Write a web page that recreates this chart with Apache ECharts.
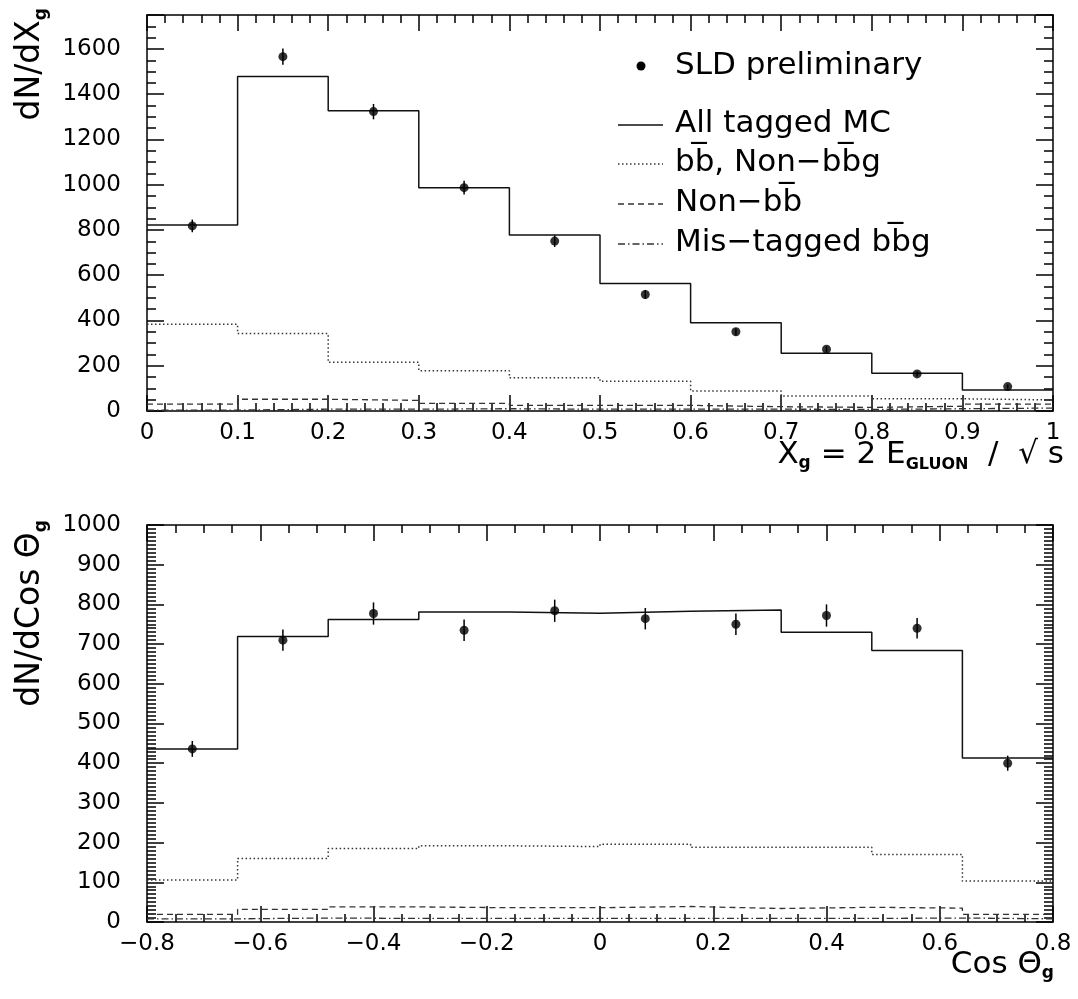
<!DOCTYPE html>
<html><head><meta charset="utf-8">
<script src="https://cdn.jsdelivr.net/npm/echarts@6/dist/echarts.min.js"></script>
<style>html,body{margin:0;padding:0;background:#fff}#c{width:1078px;height:999px}</style>
</head><body><div id="c"></div>
<script>
// ---- Top panel: X_g distribution ----
const xgEdges   = [0, 0.1, 0.2, 0.3, 0.4, 0.5, 0.6, 0.7, 0.8, 0.9, 1.0];
const xgCenters = [0.05, 0.15, 0.25, 0.35, 0.45, 0.55, 0.65, 0.75, 0.85, 0.95];
const xgData    = [818, 1566, 1323, 987, 751, 515, 350, 273, 164, 108];
const xgErr     = [28, 36, 34, 30, 26, 20, 16, 13, 11, 9];
const xgAllMC   = [822, 1478, 1327, 987, 778, 563, 390, 255, 167, 93];
const xgBB      = [383, 342, 215, 178, 147, 131, 88, 66, 54, 49];
const xgNonBB   = [30, 52, 47, 34, 25, 25, 19, 16, 21, 30];
const xgMis     = [4, 8, 8, 10, 8, 8, 8, 7, 10, 13];

// ---- Bottom panel: cos theta_g distribution ----
const cosEdges   = [-0.8, -0.64, -0.48, -0.32, -0.16, 0, 0.16, 0.32, 0.48, 0.64, 0.8];
const cosCenters = [-0.72, -0.56, -0.40, -0.24, -0.08, 0.08, 0.24, 0.40, 0.56, 0.72];
const cosData    = [436, 710, 777, 735, 784, 764, 750, 772, 740, 400];
const cosErr     = [20, 27, 28, 27, 28, 27, 27, 28, 26, 19];
const cosAllMC   = [436, 719, 762, 781, 778, 783, 786, 730, 684, 413];
const cosBB      = [106, 160, 185, 192, 190, 196, 188, 188, 170, 103];
const cosNonBB   = [19, 32, 38, 36, 36, 39, 34, 37, 35, 19];
const cosMis     = [8, 10, 9, 9, 9, 9, 9, 9, 10, 8];

const legendLabels = ['SLD preliminary', 'All tagged MC', 'bb\u0305, Non\u2212bb\u0305g', 'Non\u2212bb\u0305', 'Mis\u2212tagged bb\u0305g'];

const FONT = 'DejaVu Sans';
const BLACK = '#000';
const STY = {
  solid:  {color: '#111', width: 1.5, type: 'solid'},
  dotted: {color: '#333', width: 1.5, type: [1.5, 2.5]},
  dashed: {color: '#333', width: 1.3, type: [6, 4]},
  dashdot:{color: '#333', width: 1.3, type: [7, 3, 1.5, 3]}
};

function hist(edges, vals) { return edges.map((e, i) => [e, vals[Math.min(i, vals.length - 1)]]); }
function pts(c, v) { return c.map((x, i) => [x, v[i]]); }
function errs(c, v, e) { return c.map((x, i) => [x, v[i] - e[i], v[i] + e[i]]); }
function fmt1(v) { return String(Math.round(v * 10) / 10).replace('-', '\u2212'); }

function xAx(grid, min, max, interval, minorSplit, pos, show) {
  return {type: 'value', gridIndex: grid, min, max, interval, position: pos,
    axisLine: {show: true, onZero: false, lineStyle: {color: BLACK, width: 1.5}},
    axisTick: {show: true, inside: true, length: 16, lineStyle: {color: BLACK, width: 1.5}},
    minorTick: {show: true, splitNumber: minorSplit, length: 8, lineStyle: {color: BLACK, width: 1.5}},
    splitLine: {show: false}, minorSplitLine: {show: false},
    axisLabel: {show: show, margin: 11, fontFamily: FONT, fontSize: 23, color: BLACK, formatter: fmt1}
  };
}
function yAx(grid, min, max, interval, minorSplit, pos, show) {
  return {type: 'value', gridIndex: grid, min, max, interval, position: pos,
    axisLine: {show: true, onZero: false, lineStyle: {color: BLACK, width: 1.5}},
    axisTick: {show: true, inside: true, length: 17, lineStyle: {color: BLACK, width: 1.5}},
    minorTick: {show: true, splitNumber: minorSplit, length: 9, lineStyle: {color: BLACK, width: 1.5}},
    splitLine: {show: false}, minorSplitLine: {show: false},
    axisLabel: {show: show, margin: 26, fontFamily: FONT, fontSize: 23, color: BLACK,
      showMaxLabel: interval === 100,
      formatter: v => (Math.abs(v / interval - Math.round(v / interval)) < 1e-6 ? String(Math.round(v)) : '')}
  };
}

const errRender = (params, api) => {
  const x = api.value(0), lo = api.value(1), hi = api.value(2);
  const p1 = api.coord([x, lo]), p2 = api.coord([x, hi]);
  return {type: 'line', shape: {x1: p1[0], y1: p1[1], x2: p2[0], y2: p2[1]},
    style: {stroke: BLACK, lineWidth: 1.5}};
};

function panelSeries(g, edges, centers, data, err, all, bb, nonbb, mis) {
  const ax = {xAxisIndex: g * 2, yAxisIndex: g * 2};
  const line = (name, vals, st) => Object.assign({type: 'line', name, step: 'end', symbol: 'none',
    data: hist(edges, vals), lineStyle: st, silent: true, animation: false}, ax);
  return [
    line(legendLabels[4], mis, STY.dashdot),
    line(legendLabels[3], nonbb, STY.dashed),
    line(legendLabels[2], bb, STY.dotted),
    line(legendLabels[1], all, STY.solid),
    Object.assign({type: 'custom', name: 'err', renderItem: errRender, encode: {x: 0, y: [1, 2]},
      data: errs(centers, data, err), animation: false, z: 3}, ax),
    Object.assign({type: 'scatter', name: legendLabels[0], data: pts(centers, data), symbol: 'circle',
      symbolSize: 9, itemStyle: {color: BLACK}, animation: false, z: 4}, ax)
  ];
}

// legend drawn as graphic elements
const legX = 618, legTx = 675;
const legRows = [125, 164, 204, 244];
const legStyles = [STY.solid, STY.dotted, STY.dashed, STY.dashdot];
const graphics = [
  {type: 'circle', shape: {cx: 641, cy: 66, r: 4.5}, style: {fill: BLACK}},
  {type: 'text', x: legTx, y: 66, style: {text: legendLabels[0], font: '31px "DejaVu Sans"', fill: BLACK, verticalAlign: 'middle'}}
];
legRows.forEach((y, i) => {
  const st = legStyles[i];
  graphics.push({type: 'line', shape: {x1: legX, y1: y, x2: 663, y2: y},
    style: {stroke: st.color, lineWidth: st.width, lineDash: st.type === 'solid' ? null : st.type}});
  graphics.push({type: 'text', x: legTx, y: y - 1, style: {text: legendLabels[i + 1], font: '31px "DejaVu Sans"', fill: BLACK, verticalAlign: 'middle'}});
});

const richMain = {
  m: {fontFamily: FONT, fontSize: 33, lineHeight: 40, color: BLACK},
  s: {fontFamily: FONT, fontSize: 17, fontWeight: 'bold', color: BLACK, verticalAlign: 'bottom', lineHeight: 18}
};
const richX = {
  m: {fontFamily: FONT, fontSize: 31, lineHeight: 35, color: BLACK},
  s: {fontFamily: FONT, fontSize: 17, fontWeight: 'bold', color: BLACK, verticalAlign: 'bottom', lineHeight: 17},
  gl: {fontFamily: FONT, fontSize: 16, fontWeight: 'bold', color: BLACK, verticalAlign: 'bottom', lineHeight: 24}
};
// axis titles
graphics.push({type: 'text', x: 30, y: 8, rotation: Math.PI / 2,
  style: {text: '{m|dN/dX}{s|g}', rich: richMain, align: 'right', verticalAlign: 'middle'}});
graphics.push({type: 'text', x: 30, y: 520, rotation: Math.PI / 2,
  style: {text: '{m|dN/dCos \u0398}{s|g}', rich: richMain, align: 'right', verticalAlign: 'middle'}});
graphics.push({type: 'text', x: 1064, y: 455,
  style: {text: '{m|X}{s|g}{m| = 2 E}{gl|GLUON}{m|  /  \u221A s}', rich: richX, align: 'right', verticalAlign: 'middle'}});
graphics.push({type: 'text', x: 1054, y: 965,
  style: {text: '{m|Cos \u0398}{s|g}', rich: richX, align: 'right', verticalAlign: 'middle'}});

const option = {
  backgroundColor: '#fff',
  animation: false,
  grid: [
    {left: 147, right: 25, top: 15, height: 396},
    {left: 147, right: 25, top: 525, height: 397}
  ],
  xAxis: [
    xAx(0, 0, 1, 0.1, 5, 'bottom', true),
    xAx(0, 0, 1, 0.1, 5, 'top', false),
    xAx(1, -0.8, 0.8, 0.2, 4, 'bottom', true),
    xAx(1, -0.8, 0.8, 0.2, 4, 'top', false)
  ],
  yAxis: [
    yAx(0, 0, 1750, 200, 4, 'left', true),
    yAx(0, 0, 1750, 200, 4, 'right', false),
    yAx(1, 0, 1000, 100, 10, 'left', true),
    yAx(1, 0, 1000, 100, 10, 'right', false)
  ],
  series: [
    ...panelSeries(0, xgEdges, xgCenters, xgData, xgErr, xgAllMC, xgBB, xgNonBB, xgMis),
    ...panelSeries(1, cosEdges, cosCenters, cosData, cosErr, cosAllMC, cosBB, cosNonBB, cosMis)
  ],
  graphic: graphics
};
const chart = echarts.init(document.getElementById('c'));
chart.setOption(option);
</script></body></html>
